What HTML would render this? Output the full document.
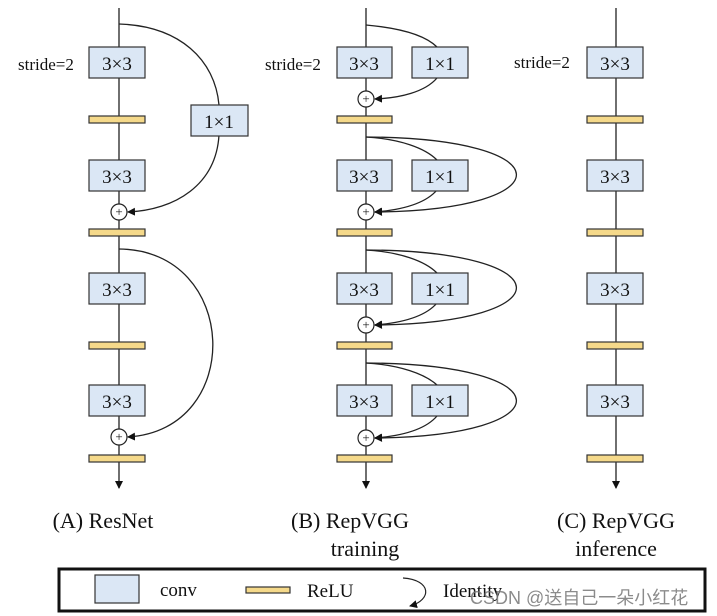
<!DOCTYPE html>
<html><head><meta charset="utf-8"><style>
html,body{margin:0;padding:0;background:#fff;}
svg{display:block;}
text{font-family:"Liberation Serif",serif;fill:#111;}
</style></head><body>
<svg width="717" height="616" viewBox="0 0 717 616" xmlns="http://www.w3.org/2000/svg">
<defs>
<marker id="ah" markerWidth="8" markerHeight="8" refX="7" refY="4" orient="auto" markerUnits="userSpaceOnUse">
<path d="M0,0 L8,4 L0,8 Z" fill="#111"/></marker>
</defs>
<g stroke="#222" stroke-width="1.3" fill="none">
<line x1="119" y1="8" x2="119" y2="488" marker-end="url(#ah)"/>
<line x1="366" y1="8" x2="366" y2="488" marker-end="url(#ah)"/>
<line x1="616" y1="8" x2="616" y2="488" marker-end="url(#ah)"/>
<path d="M119,24 C180,26 215,60 219,105"/>
<path d="M219,135 C216,185 175,210 128,212" marker-end="url(#ah)"/>
<path d="M119,249 C240,250 245,430 128,437" marker-end="url(#ah)"/>
<path d="M366,25 C400,28 425,35 437,47"/>
<path d="M437,78 C425,92 400,98 375,99" marker-end="url(#ah)"/>
</g>
<g stroke="#222" stroke-width="1.3" fill="none">
<path d="M366,137 C400,139 425,148 437,160"/>
<path d="M437,190 C425,204 400,210 375,212" marker-end="url(#ah)"/>
<path d="M366,137 C565,138 565,210 375,212" marker-end="url(#ah)"/>
<path d="M366,250 C400,252 425,261 437,273"/>
<path d="M437,303 C425,317 400,323 375,325" marker-end="url(#ah)"/>
<path d="M366,250 C565,251 565,323 375,325" marker-end="url(#ah)"/>
<path d="M366,363 C400,365 425,374 437,385"/>
<path d="M437,416 C425,430 400,436 375,438" marker-end="url(#ah)"/>
<path d="M366,363 C565,364 565,436 375,438" marker-end="url(#ah)"/>
</g>
<g fill="#dbe7f5" stroke="#333" stroke-width="1.2">
<rect x="89" y="47" width="56" height="31"/>
<rect x="191" y="105" width="57" height="31"/>
<rect x="89" y="160" width="56" height="31"/>
<rect x="89" y="273" width="56" height="31"/>
<rect x="89" y="385" width="56" height="31"/>
<rect x="337" y="47" width="55" height="31"/>
<rect x="412" y="47" width="56" height="31"/>
<rect x="337" y="160" width="55" height="31"/>
<rect x="412" y="160" width="56" height="31"/>
<rect x="337" y="273" width="55" height="31"/>
<rect x="412" y="273" width="56" height="31"/>
<rect x="337" y="385" width="55" height="31"/>
<rect x="412" y="385" width="56" height="31"/>
<rect x="587" y="47" width="56" height="31"/>
<rect x="587" y="160" width="56" height="31"/>
<rect x="587" y="273" width="56" height="31"/>
<rect x="587" y="385" width="56" height="31"/>
<rect x="95" y="575" width="44" height="28"/>
</g>
<g fill="#f5d98a" stroke="#333" stroke-width="1.2">
<rect x="89" y="116" width="56" height="7"/>
<rect x="89" y="229" width="56" height="7"/>
<rect x="89" y="342" width="56" height="7"/>
<rect x="89" y="455" width="56" height="7"/>
<rect x="337" y="116" width="55" height="7"/>
<rect x="337" y="229" width="55" height="7"/>
<rect x="337" y="342" width="55" height="7"/>
<rect x="337" y="455" width="55" height="7"/>
<rect x="587" y="116" width="56" height="7"/>
<rect x="587" y="229" width="56" height="7"/>
<rect x="587" y="342" width="56" height="7"/>
<rect x="587" y="455" width="56" height="7"/>
<rect x="246" y="587" width="44" height="6"/>
</g>
<g fill="#fff" stroke="#222" stroke-width="1.2">
<circle cx="119" cy="212" r="8"/><circle cx="119" cy="437" r="8"/>
<circle cx="366" cy="99" r="8"/><circle cx="366" cy="212" r="8"/>
<circle cx="366" cy="325" r="8"/><circle cx="366" cy="438" r="8"/>
</g>
<g font-size="13" text-anchor="middle">
<text x="119" y="216">+</text><text x="119" y="441">+</text>
<text x="366" y="103">+</text><text x="366" y="216">+</text>
<text x="366" y="329">+</text><text x="366" y="442">+</text>
</g>
<g font-size="19" text-anchor="middle">
<text x="117" y="70">3×3</text><text x="219" y="128">1×1</text>
<text x="117" y="183">3×3</text><text x="117" y="296">3×3</text><text x="117" y="408">3×3</text>
<text x="364" y="70">3×3</text><text x="440" y="70">1×1</text>
<text x="364" y="183">3×3</text><text x="440" y="183">1×1</text>
<text x="364" y="296">3×3</text><text x="440" y="296">1×1</text>
<text x="364" y="408">3×3</text><text x="440" y="408">1×1</text>
<text x="615" y="70">3×3</text><text x="615" y="183">3×3</text>
<text x="615" y="296">3×3</text><text x="615" y="408">3×3</text>
</g>
<g font-size="17">
<text x="18" y="70">stride=2</text>
<text x="265" y="70">stride=2</text>
<text x="514" y="68">stride=2</text>
</g>
<g font-size="22" text-anchor="middle">
<text x="103" y="528">(A) ResNet</text>
<text x="350" y="528">(B) RepVGG</text>
<text x="365" y="556">training</text>
<text x="616" y="528">(C) RepVGG</text>
<text x="616" y="556">inference</text>
</g>
<rect x="59" y="569" width="646" height="42" fill="none" stroke="#111" stroke-width="3"/>
<text x="160" y="596" font-size="19">conv</text>
<text x="307" y="597" font-size="19">ReLU</text>
<path d="M403,578 C432,580 432,600 410,606" fill="none" stroke="#222" stroke-width="1.2" marker-end="url(#ah)"/>
<text x="443" y="597" font-size="19">Identity</text>
<text x="470" y="604" font-size="18" style="font-family:'Liberation Sans','Noto Sans CJK SC',sans-serif;fill:#777;opacity:0.85">CSDN @送自己一朵小红花</text>
</svg>
</body></html>
